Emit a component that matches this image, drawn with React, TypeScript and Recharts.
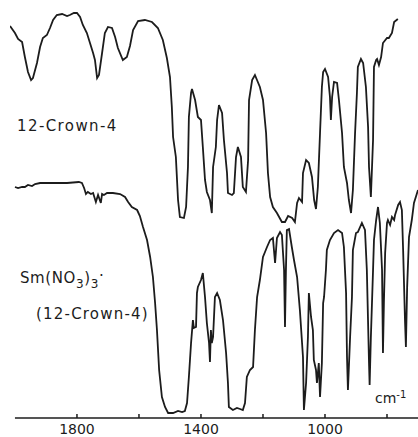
import React from "react";
import { LineChart, Line, XAxis, YAxis, ReferenceLine } from "recharts";

// wavenumber (cm-1), relative transmittance (offset spectra)
const crownSpectrum: [number, number][] = [
  [2016, 98], [2000, 96.25], [1990, 94.75], [1977, 94], [1968, 90.25], [1958, 86.5], [1948, 84.5],
  [1942, 85], [1929, 88.75], [1919, 92.75], [1910, 95], [1897, 95.75], [1887, 97.5], [1877, 99.5],
  [1865, 100.75], [1848, 101], [1832, 100.5], [1823, 100.75], [1810, 101.25], [1800, 101.25],
  [1790, 100.25], [1781, 98.25], [1768, 96.25], [1758, 93.75], [1748, 91.25], [1742, 89.5],
  [1735, 85], [1729, 85.75], [1719, 91.25], [1710, 96.25], [1700, 97.75], [1687, 97.5], [1677, 95.25],
  [1668, 92.5], [1652, 89.5], [1639, 90.25], [1629, 93], [1619, 97], [1603, 99.25], [1581, 99.5],
  [1558, 99], [1539, 97.5], [1523, 94.5], [1510, 90], [1500, 85.25], [1494, 77.75], [1490, 70.25],
  [1481, 65.25], [1474, 54.5], [1468, 50.25], [1455, 50], [1448, 52.75], [1442, 62.75], [1439, 75.25],
  [1432, 81.25], [1429, 82.25], [1419, 79.5], [1410, 75.25], [1400, 74.5], [1394, 67.75], [1387, 59.5],
  [1381, 56.5], [1371, 54.5], [1365, 51.25], [1361, 62.75], [1352, 67.75], [1348, 74.5], [1342, 78.25],
  [1332, 76.25], [1326, 69.5], [1316, 61.25], [1313, 56.25], [1300, 55.75], [1294, 56.25], [1287, 65.25],
  [1281, 67.75], [1271, 65.25], [1265, 57.75], [1255, 56.5], [1248, 64.5], [1245, 79.5], [1235, 84.5],
  [1226, 85.75], [1210, 82.75], [1200, 79.5], [1190, 71.25], [1184, 61.25], [1177, 55.25], [1168, 52.75],
  [1155, 51.25], [1139, 49], [1129, 49], [1119, 50.5], [1106, 50], [1097, 49], [1090, 53.75], [1084, 55],
  [1074, 54], [1071, 61.25], [1061, 64.5], [1052, 63.75], [1042, 60.25], [1035, 54.5], [1029, 52.25],
  [1023, 57.75], [1016, 71.25], [1010, 82.75], [1006, 86.5], [1000, 87.25], [990, 85.25], [984, 80.25],
  [981, 74.5], [977, 80.25], [971, 84], [961, 83.75], [955, 79.5], [945, 71.25], [939, 62.75], [929, 58.75],
  [923, 54.5], [916, 51.25], [910, 57], [903, 71.25], [897, 81.25], [894, 87.75], [884, 89.75], [877, 88.75],
  [868, 82.75], [861, 72.75], [858, 62.75], [852, 55.25], [845, 69.5], [842, 87.75], [835, 89.5],
  [832, 89.75], [826, 88.25], [819, 90.25], [813, 93.75], [800, 95], [794, 95], [784, 96.25], [777, 99],
  [765, 99.75],
];

const complexSpectrum: [number, number][] = [
  [2000, 57.75], [1990, 57.5], [1977, 57.75], [1968, 57.75], [1958, 58.25], [1945, 58], [1935, 58.5],
  [1919, 58.75], [1887, 58.75], [1832, 58.75], [1794, 59], [1784, 58.75], [1777, 57.5], [1771, 56],
  [1765, 56.5], [1755, 56], [1748, 56.25], [1739, 54], [1732, 55.75], [1723, 53.75], [1719, 56],
  [1713, 55.75], [1703, 56.25], [1684, 56.25], [1661, 56], [1645, 55.25], [1635, 54], [1623, 52.75],
  [1606, 52], [1597, 50.5], [1587, 47.75], [1574, 44.5], [1564, 40.25], [1555, 35.25], [1548, 28.75],
  [1542, 22], [1535, 12], [1526, 5.25], [1516, 2.75], [1506, 1.25], [1490, 1.25], [1474, 1.75],
  [1461, 1.5], [1452, 1.75], [1445, 3.75], [1439, 10.25], [1432, 18.75], [1426, 24.5], [1423, 22.5],
  [1416, 22.75], [1413, 31.25], [1410, 32.75], [1400, 34.5], [1394, 36.25], [1387, 30.25], [1381, 23.75],
  [1374, 18.75], [1371, 14], [1368, 22], [1365, 18.75], [1361, 20.25], [1355, 30.25], [1348, 31.25],
  [1339, 29.5], [1329, 24.5], [1319, 16.25], [1313, 8.75], [1310, 2.75], [1297, 2], [1284, 2.5],
  [1274, 2.25], [1265, 2], [1258, 3.75], [1252, 10.25], [1242, 12], [1232, 12.75], [1226, 22],
  [1219, 30.25], [1210, 34.5], [1200, 40.25], [1187, 42.75], [1177, 44.5], [1168, 45], [1161, 38.75],
  [1155, 45], [1145, 46.5], [1139, 45.75], [1132, 37], [1129, 22.75], [1126, 37], [1123, 47],
  [1116, 47.25], [1107, 42.75], [1100, 39.5], [1090, 35.25], [1081, 27], [1071, 15.25], [1068, 2],
  [1061, 8.75], [1055, 20.25], [1052, 31.25], [1045, 25.25], [1039, 22], [1036, 14.5], [1029, 12],
  [1026, 8.75], [1020, 13.75], [1016, 5.25], [1010, 13.75], [1006, 28.75], [1003, 30.25], [997, 37],
  [994, 42], [984, 44.5], [971, 46.25], [958, 47], [945, 46.25], [939, 42.75], [932, 31.25], [929, 15.25],
  [926, 7], [919, 20.25], [913, 30.25], [910, 42], [900, 46.25], [894, 46.5], [881, 48.75], [871, 47],
  [865, 37], [858, 13.75], [856, 8.25], [852, 20.25], [845, 37], [842, 44.5], [835, 49.5], [829, 52.75],
  [823, 48.75], [816, 37], [813, 16.25], [810, 28.75], [806, 41.25], [800, 48.75], [797, 49.5],
  [790, 48.25], [784, 50.25], [777, 49.5], [774, 50.75], [764, 53.25], [758, 54], [752, 52], [748, 42],
  [742, 24.5], [739, 17.75], [735, 32.75], [729, 45.25], [720, 49.5], [713, 53.75], [703, 56.25],
  [700, 57],
];

const tickValues = [1800, 1600, 1400, 1200, 1000, 800];
const labelledTicks = [1800, 1400, 1000];

const crownData = crownSpectrum.map(([w, t]) => ({ w, t }));
const complexData = complexSpectrum.map(([w, t]) => ({ w, t }));

const INK = "#1c1c1c";
const FONT = "'DejaVu Sans', sans-serif";

const AxisTick = (props: any) => {
  const { x, y, payload } = props;
  const v = payload.value;
  return (
    <g>
      <line x1={x} y1={y} x2={x} y2={y - 4} stroke={INK} strokeWidth={1.5} />
      {labelledTicks.includes(v) && (
        <text x={x} y={y + 16} textAnchor="middle" fontSize={14} fontFamily={FONT} fill={INK}>
          {v}
        </text>
      )}
    </g>
  );
};

export default function App() {
  return (
    <div style={{ position: "absolute", left: 0, top: 0, width: 418, height: 437, background: "#fff" }}>
      <LineChart width={418} height={437} margin={{ top: 10, right: 0, left: 10, bottom: 0 }}>
        <XAxis
          type="number"
          dataKey="w"
          domain={[700, 2016]}
          reversed
          ticks={tickValues}
          tick={<AxisTick />}
          tickLine={false}
          axisLine={false}
          tickSize={0}
          tickMargin={0}
          height={19}
          allowDataOverflow
          interval={0}
        />
        <YAxis hide domain={[0, 102]} type="number" />
        <ReferenceLine
          segment={[{ x: 2000, y: 0 }, { x: 700, y: 0 }]}
          stroke={INK}
          strokeWidth={1.5}
        />
        <Line data={crownData} dataKey="t" type="linear" stroke={INK} strokeWidth={1.8} dot={false} isAnimationActive={false} />
        <Line data={complexData} dataKey="t" type="linear" stroke={INK} strokeWidth={1.8} dot={false} isAnimationActive={false} />
      </LineChart>
      <svg width={418} height={437} style={{ position: "absolute", left: 0, top: 0, pointerEvents: "none" }}>
        <g fontFamily={FONT} fill={INK}>
          <text x={17} y={131} fontSize={15} letterSpacing={1.4}>12-Crown-4</text>
          <text x={20} y={283} fontSize={15} letterSpacing={0.6}>
            Sm(NO<tspan fontSize={12} dy={5}>3</tspan>
            <tspan dy={-5}>)</tspan>
            <tspan fontSize={12} dy={5}>3</tspan>
            <tspan dy={-7}>·</tspan>
          </text>
          <text x={36} y={319} fontSize={15} letterSpacing={1.2}>(12-Crown-4)</text>
          <text x={375} y={403} fontSize={14}>
            cm<tspan fontSize={10} dy={-5}>-1</tspan>
          </text>
        </g>
      </svg>
    </div>
  );
}
